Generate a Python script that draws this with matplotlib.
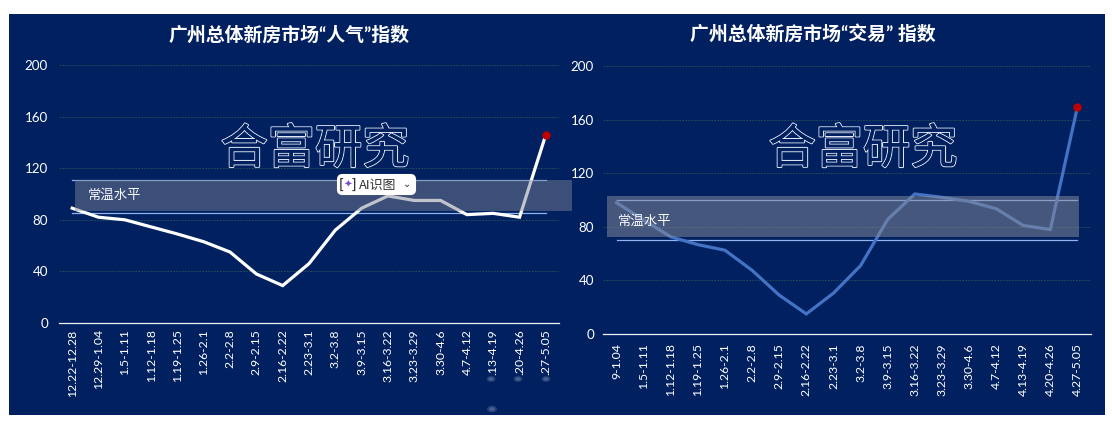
import matplotlib
matplotlib.use("Agg")
import matplotlib.pyplot as plt
import matplotlib.patheffects as pe
from matplotlib.patches import Rectangle, FancyBboxPatch, Ellipse

plt.rcParams['font.family'] = ['Lato', 'Noto Sans CJK SC', 'DejaVu Sans']
W, H = 1112, 423
NAVY = '#002060'

title_left = '广州总体新房市场“人气”指数'
title_right = '广州总体新房市场“交易” 指数'
band_label = '常温水平'
watermark = '合富研究'
y_ticks = [0, 40, 80, 120, 160, 200]

labels_left = ['12.22-12.28', '12.29-1.04', '1.5-1.11', '1.12-1.18', '1.19-1.25', '1.26-2.1', '2.2-2.8',
               '2.9-2.15', '2.16-2.22', '2.23-3.1', '3.2-3.8', '3.9-3.15', '3.16-3.22', '3.23-3.29',
               '3.30-4.6', '4.7-4.12', '.13-4.19', '.20-4.26', '.27-5.05']
values_left = [89, 82, 80, 74.5, 69, 63, 55, 38, 29, 46, 72, 89, 98.5, 95, 95, 84, 85, 82, 146]
upper_left = [110.5] * 19
lower_left = [85] * 19

labels_right = ['9-1.04', '1.5-1.11', '1.12-1.18', '1.19-1.25', '1.26-2.1', '2.2-2.8', '2.9-2.15', '2.16-2.22',
                '2.23-3.1', '3.2-3.8', '3.9-3.15', '3.16-3.22', '3.23-3.29', '3.30-4.6', '4.7-4.12',
                '4.13-4.19', '4.20-4.26', '4.27-5.05']
values_right = [98, 85, 72.5, 66.7, 62.5, 47.5, 29, 15, 30.5, 51, 85.5, 104.5, 102, 99, 93.5, 81, 78, 169.5]
upper_right = [100] * 18
lower_right = [70] * 18

fig = plt.figure(figsize=(W / 100, H / 100), dpi=100, facecolor='white')


def fx(px):
    return px / W


def fy(py):
    return 1 - py / H


fig.add_artist(Rectangle((fx(9), fy(415)), fx(1105) - fx(9), fy(14) - fy(415),
                         transform=fig.transFigure, fc=NAVY, ec='none', zorder=-5))


def panel(x0, x1, y_top, y_bot, labels, values, upper, lower, color, band, band_fc, band_alpha,
          title, title_xy, label_xy, wm_xy, xpad, ypad):
    ax = fig.add_axes([fx(x0), fy(y_bot), fx(x1) - fx(x0), fy(y_top) - fy(y_bot)])
    ax.set_facecolor('none')
    n = len(values)
    xs = list(range(n))
    ax.set_xlim(-0.5, n - 0.5)
    ax.set_ylim(0, 200)
    ax.set_yticks(y_ticks)
    ax.set_xticks(xs)
    ax.set_xticklabels(labels, rotation=90, ha='center', va='top')
    ax.tick_params(length=0, labelcolor='#FFFFFF')
    ax.tick_params(axis='x', pad=xpad, labelsize=8.8)
    ax.tick_params(axis='y', pad=ypad, labelsize=9.6)
    for s in ['top', 'right', 'left']:
        ax.spines[s].set_visible(False)
    ax.spines['bottom'].set_color('#F0F3FA')
    ax.spines['bottom'].set_linewidth(0.9)
    ax.yaxis.grid(True, color='#2C5F55', lw=0.6, ls=(0, (2, 1.5)), alpha=0.85)
    ax.set_axisbelow(True)
    for level in (upper, lower):
        ax.plot(xs, level, color='#8FB4EE', lw=0.9, zorder=2)
    ax.plot(xs, values, color=color, lw=2.3, solid_joinstyle='miter', zorder=3)
    ax.plot(xs[-1], values[-1], 'o', color='#C00000', ms=5, zorder=6)
    ax.add_patch(Rectangle((band[0], band[2]), band[1] - band[0], band[3] - band[2], fc=band_fc,
                           alpha=band_alpha, ec='none', zorder=4, clip_on=False))
    fig.text(fx(title_xy[0]), fy(title_xy[1]), title, color='white', fontsize=13.6, fontweight='bold',
             ha='center', va='center')
    fig.text(fx(label_xy[0]), fy(label_xy[1]), band_label, color='#F8F9FC', fontsize=9.6, fontweight='medium',
             ha='left', va='center', zorder=8, family=['Noto Sans CJK SC', 'DejaVu Sans'])
    fig.text(fx(wm_xy[0]), fy(wm_xy[1]), watermark, color=NAVY, fontsize=34, fontweight='medium',
             ha='center', va='center', family=['Noto Sans CJK SC', 'DejaVu Sans'], zorder=1,
             path_effects=[pe.withStroke(linewidth=1.5, foreground='#E2E8F5'), pe.Normal()])
    return ax


panel(59, 559, 65, 323, labels_left, values_left, upper_left, lower_left, '#FFFFFF',
      (0.1, 19.0, 86.5, 110.5), '#7F8496', 0.48, title_left, (289.5, 35), (88, 195), (315, 150), 4.5, 8)
panel(603, 1091, 66, 334, labels_right, values_right, upper_right, lower_right, '#4472C4',
      (-0.37, 17.05, 72.5, 103), '#878B99', 0.52, title_right, (813, 33.5), (618, 221), (863, 150), 6.5, 6.5)

# Pop-up button sitting on top of the left chart
fig.add_artist(FancyBboxPatch((fx(338), fy(194)), fx(415) - fx(338), fy(175) - fy(194),
                              boxstyle='round,pad=0,rounding_size=0.004', transform=fig.transFigure,
                              fc='white', ec='white', lw=1.5, zorder=10, mutation_aspect=2.6))
fig.text(fx(342), fy(185), '[', color='#333333', fontsize=10, ha='center', va='center', zorder=11,
         family='DejaVu Sans')
fig.text(fx(353), fy(185), ']', color='#333333', fontsize=10, ha='center', va='center', zorder=11,
         family='DejaVu Sans')
fig.text(fx(347.5), fy(185), '✦', color='#7B4FD0', fontsize=7.5, ha='center', va='center', zorder=11,
         family='DejaVu Sans')
fig.text(fx(359), fy(185), 'AI识图', color='#333333', fontsize=9.3, ha='left', va='center', zorder=11,
         family=['Noto Sans CJK SC', 'DejaVu Sans'])
fig.text(fx(407), fy(184), '⌄', color='#333333', fontsize=7, ha='center', va='center', zorder=11,
         family='DejaVu Sans')

# Faint blurred smudges at the foot of the picture
for px, py, w, h in [(491, 379, 9, 6), (518, 379, 9, 6), (546, 379, 9, 6), (492, 409, 10, 7)]:
    for k in (1.0, 0.7, 0.4):
        fig.add_artist(Ellipse((fx(px), fy(py)), fx(w * k), h * k / H, transform=fig.transFigure,
                               fc='#AAB6D4', ec='none', alpha=0.18, zorder=9))

fig.savefig('out.png', dpi=100, facecolor='white')
